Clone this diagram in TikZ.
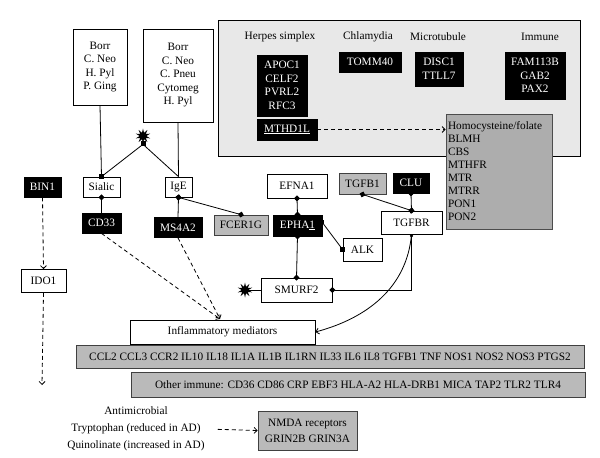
\documentclass[tikz,border=0pt]{standalone}
\usepackage{fontspec}
\setmainfont{Liberation Serif}
\usetikzlibrary{arrows.meta,shapes.geometric,calc}
\tikzset{
  txt/.style={font=\fontsize{11.3}{13.5}\selectfont, inner sep=1pt},
  wbox/.style={txt, draw, line width=0.8pt, fill=white, align=center},
  bbox/.style={txt, draw, line width=0.8pt, fill=black, text=white, align=center},
  gbox/.style={txt, draw=black!75, line width=0.8pt, fill=black!27, align=center},
  burst/.style={star, star points=10, star point ratio=2.2, fill=black, minimum size=15pt, inner sep=0pt},
  sqr/.style={fill=black, minimum size=5pt, inner sep=0pt},
  link/.style={line width=0.8pt},
  dd/.style={link, {Diamond[length=6pt,width=6pt]}-{Diamond[length=6pt,width=6pt]}, shorten <=-3pt, shorten >=-3pt},
  ds/.style={link, {Diamond[length=6pt,width=6pt]}-, shorten <=-3pt},
  dashlink/.style={link, dash pattern=on 4pt off 3pt, -{Straight Barb[length=3pt,width=6pt]}}
}
\begin{document}
\begin{tikzpicture}[x=1pt,y=-1pt]
    \useasboundingbox (0,0) rectangle (600,458);
    % Gene groups box
    \draw[line width=0.8pt, fill=black!9] (218,20) rectangle (580,156);
    \node[txt] (herpes) at (280,37) {Herpes simplex};
    \node[txt] (chlam) at (368,37) {Chlamydia};
    \node[txt] (micro) at (438,37) {Microtubule};
    \node[txt] (immune) at (540,37) {Immune};
    \node[bbox, minimum width=50, minimum height=61] (apoc) at (282,85.5) {APOC1\\CELF2\\PVRL2\\RFC3};
    \node[bbox, minimum width=60, minimum height=21] (mthd) at (287,129.5) {\underline{MTHD1L}};
    \node[bbox, minimum width=62, minimum height=20] (tomm) at (370,62) {TOMM40};
    \node[bbox, minimum width=48, minimum height=34] (disc) at (439,69) {DISC1\\TTLL7};
    \node[bbox, minimum width=60, minimum height=47] (fam) at (535,75.5) {FAM113B\\GAB2\\PAX2};
    \node[gbox, draw=black!70, fill=black!32, minimum width=106, minimum height=115, align=left, text width=102, font=\fontsize{11.3}{13}\selectfont] (homo) at (499,171.5) {Homocysteine/folate\\BLMH\\CBS\\MTHFR\\MTR\\MTRR\\PON1\\PON2};
    % Pathogens
    \node[wbox, minimum width=54, minimum height=76] (pathA) at (100,67) {Borr\\C. Neo\\H. Pyl\\P. Ging};
    \node[wbox, minimum width=70, minimum height=93] (pathB) at (178,75.5) {Borr\\C. Neo\\C. Pneu\\Cytomeg\\H. Pyl};
    \node[burst] (starA) at (143,136) {};
    \node[wbox, minimum width=37, minimum height=20] (sialic) at (101.5,187) {Sialic};
    \node[wbox, minimum width=27, minimum height=20] (ige) at (178.5,187) {IgE};
    \node[bbox, minimum width=37, minimum height=20] (bin) at (42.5,187) {BIN1};
    \node[bbox, minimum width=39, minimum height=20] (cd) at (101.5,223) {CD33};
    \node[bbox, minimum width=48, minimum height=20] (ms) at (178,227.5) {MS4A2};
    \node[gbox, minimum width=54, minimum height=20] (fcer) at (241,225) {FCER1G};
    \node[wbox, minimum width=45, minimum height=23] (ido) at (43.5,281) {IDO1};
    % TGF beta side
    \node[wbox, minimum width=60, minimum height=24] (efna) at (297,186) {EFNA1};
    \node[gbox, minimum width=47, minimum height=21] (tgfb) at (362.5,183.5) {TGFB1};
    \node[bbox, minimum width=36, minimum height=20] (clu) at (411,183) {CLU};
    \node[bbox, minimum width=49, minimum height=21] (epha) at (297.5,225.5) {EPHA\underline{1}};
    \node[wbox, minimum width=39, minimum height=23] (alk) at (362.5,249.5) {ALK};
    \node[wbox, minimum width=61, minimum height=23] (tgfbr) at (411.5,222.5) {TGFBR};
    \node[wbox, minimum width=71, minimum height=24] (smurf) at (296.5,290) {SMURF2};
    \node[burst] (starB) at (245,290) {};
    % Mediators
    \node[wbox, minimum width=185, minimum height=24] (infl) at (222.5,332) {Inflammatory mediators};
    \node[gbox, minimum width=508, minimum height=23] (ccl) at (330,357) {CCL2 CCL3 CCR2 IL10 IL18 IL1A IL1B IL1RN IL33 IL6 IL8 TGFB1 TNF NOS1 NOS2 NOS3 PTGS2};
    \node[gbox, minimum width=454, minimum height=25] (other) at (358,384.5) {Other immune: CD36 CD86 CRP EBF3 HLA-A2 HLA-DRB1 MICA TAP2 TLR2 TLR4};
    \node[txt, align=center, font=\fontsize{11.3}{17}\selectfont] (anti) at (136,429) {Antimicrobial\\Tryptophan (reduced in AD)\\Quinolinate (increased in AD)};
    \node[gbox, minimum width=99, minimum height=39, font=\fontsize{11.3}{16}\selectfont] (nmda) at (307.5,430.5) {NMDA receptors\\GRIN2B GRIN3A};
    \coordinate (inflin) at (220,319);
    \coordinate (idoend) at (42,385);
    \coordinate (ephaout) at (322,222);
    % Connectors
    \draw[link] (pathA.south) -- (sialic.north);
    \draw[link] (pathB.south) -- (ige.north);
    \draw[link] (starA.south) -- (sialic.north);
    \draw[link] (starA.south) -- (ige.north);
    \node[sqr] (sqA) at (sialic.north) {};
    \node[sqr] (sqB) at ([yshift=1pt]starA.south) {};
    \draw[ds] (sialic.south) -- (cd.north);
    \draw[ds] (ige.south) -- (ms.north);
    \draw[dd] (ige.south) -- (fcer.north);
    \draw[dashlink] (bin.south) -- (ido.north);
    \draw[dashlink] (ido.south) -- (idoend);
    \draw[dashlink] (cd.south) -- (inflin);
    \draw[dashlink] (ms.south) -- (inflin);
    \draw[dashlink] (mthd.east) -- (mthd.east -| homo.west);
    \draw[dd] (efna.south) -- (epha.north);
    \draw[dd] (epha.south) -- (smurf.north);
    \draw[link] (ephaout) -- (alk.west);
    \node[sqr, minimum size=4pt] (sqC) at (ephaout) {};
    \node[sqr] (sqD) at (alk.west) {};
    \draw[dd] (tgfb.south) -- (tgfbr.north);
    \draw[dd] (clu.south) -- (tgfbr.north);
    \draw[link, {Circle[length=3pt]}-{Diamond[length=6pt,width=6pt]}, shorten >=-3pt] (tgfbr.south) |- (smurf.east);
    \draw[link, -{Straight Barb[length=3pt,width=6pt]}] (tgfbr.south) to[out=-95, in=15] (infl.east);
    \draw[link] (smurf.west) -- (starB);
    \draw[dashlink, shorten <=12pt] (anti.east) -- (nmda.west);
\end{tikzpicture}
\end{document}
